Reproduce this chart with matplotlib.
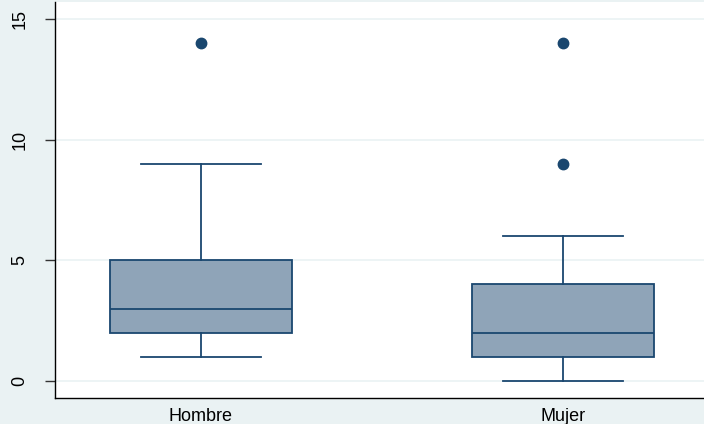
import matplotlib
matplotlib.use("Agg")
import matplotlib.pyplot as plt

# group names and box plot summary values
groups = ["Hombre", "Mujer"]
whislo = [1, 0]
q1 = [2, 1]
med = [3, 2]
q3 = [5, 4]
whishi = [9, 6]
fliers = [[14], [9, 14]]
yticks = [0, 5, 10, 15]

navy = "#1a476f"
fill = "#8fa4b8"
bg = "#eaf2f3"

plt.rcParams["font.family"] = ["Liberation Sans", "DejaVu Sans"]

fig = plt.figure(figsize=(7.04, 4.24), dpi=100, facecolor=bg)
ax = fig.add_axes([55 / 704, 26 / 424, 649 / 704, 396 / 424])
ax.set_facecolor("white")

stats = []
for i, g in enumerate(groups):
    stats.append(dict(label=g, whislo=whislo[i], q1=q1[i], med=med[i],
                      q3=q3[i], whishi=whishi[i], fliers=fliers[i]))

ax.bxp(stats, positions=[1, 2], widths=0.503, capwidths=0.334,
       patch_artist=True, showfliers=True,
       boxprops=dict(facecolor=fill, edgecolor=navy, linewidth=1.3),
       medianprops=dict(color=navy, linewidth=1.3),
       whiskerprops=dict(color=navy, linewidth=1.3),
       capprops=dict(color=navy, linewidth=1.3),
       flierprops=dict(marker="o", markerfacecolor=navy, markeredgecolor=navy,
                       markersize=7.5))

ax.set_xlim(1 - 146 / 362, 2 + 141 / 362)
ax.set_ylim(-0.705, 15.705)
ax.set_yticks(yticks)
ax.set_yticklabels([str(t) for t in yticks], rotation=90, va="center", fontsize=13)
ax.tick_params(axis="y", length=7, width=1, color="#333333", pad=12)
ax.tick_params(axis="x", length=0, labelsize=13, pad=7)
ax.yaxis.grid(True, color=bg, linewidth=1.2)
ax.set_axisbelow(True)

for s in ["top", "right"]:
    ax.spines[s].set_visible(False)
for s in ["left", "bottom"]:
    ax.spines[s].set_color("black")
    ax.spines[s].set_linewidth(1.0)

fig.savefig("out.png", dpi=100, facecolor=bg)
